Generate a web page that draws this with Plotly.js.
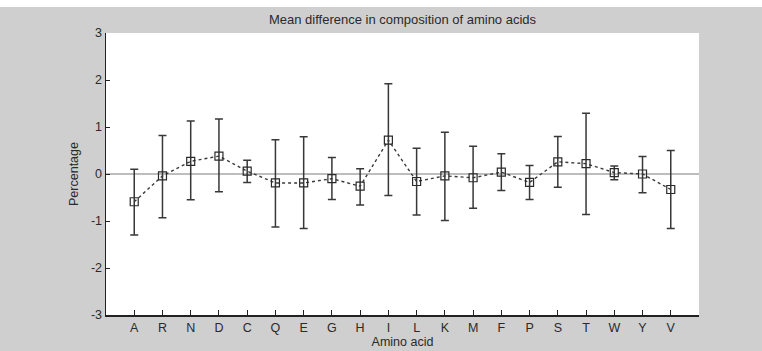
<!DOCTYPE html>
<html>
<head>
<meta charset="utf-8">
<script src="https://cdn.plot.ly/plotly-3.0.1.min.js"></script>
<style>
html, body { margin: 0; padding: 0; background: #ffffff; overflow: hidden; }
#chart { position: absolute; left: 0; top: 7px; width: 762px; height: 344px; }
</style>
</head>
<body>
<div id="chart"></div>
<script>
const aminoAcids = ["A","R","N","D","C","Q","E","G","H","I","L","K","M","F","P","S","T","W","Y","V"];
const meanDiff  = [-0.59,-0.04,0.27,0.38,0.06,-0.19,-0.19,-0.10,-0.26,0.72,-0.16,-0.04,-0.08,0.04,-0.18,0.26,0.22,0.03,0.00,-0.33];
const upperVal  = [0.10,0.82,1.13,1.17,0.29,0.73,0.79,0.35,0.11,1.92,0.55,0.89,0.59,0.43,0.18,0.80,1.29,0.17,0.37,0.50];
const lowerVal  = [-1.30,-0.93,-0.55,-0.38,-0.18,-1.13,-1.16,-0.54,-0.66,-0.46,-0.87,-0.99,-0.73,-0.35,-0.54,-0.28,-0.86,-0.12,-0.40,-1.16];
const yTicks = [-3,-2,-1,0,1,2,3];

const xPos = aminoAcids.map((_, i) => i + 1);
const errPlus = upperVal.map((u, i) => u - meanDiff[i]);
const errMinus = lowerVal.map((l, i) => meanDiff[i] - l);

const FONT = '"Liberation Sans", Arial, sans-serif';

const trace = {
  x: xPos,
  y: meanDiff,
  type: 'scatter',
  mode: 'lines+markers',
  line: { color: '#3a3a3a', width: 1.4, dash: 'dot' },
  marker: { symbol: 'square-open', size: 8, color: '#2a2a2a', line: { width: 1.2, color: '#2a2a2a' } },
  error_y: { type: 'data', symmetric: false, array: errPlus, arrayminus: errMinus, color: '#383838', thickness: 1.5, width: 4 },
  hoverinfo: 'skip'
};

const layout = {
  width: 762, height: 344,
  paper_bgcolor: '#cfcfcf',
  plot_bgcolor: '#ffffff',
  margin: { l: 106, r: 63, t: 26, b: 36, pad: 0 },
  showlegend: false,
  font: { family: FONT, size: 12, color: '#2a2a2a' },
  title: { text: 'Mean difference in composition of amino acids', font: { family: FONT, size: 13, color: '#2a2a2a' }, x: 0.5, xref: 'paper', xanchor: 'center', y: 0.965, yref: 'container', yanchor: 'middle' },
  xaxis: {
    range: [0, 21],
    tickmode: 'array',
    tickvals: xPos,
    ticktext: aminoAcids,
    ticks: 'inside', ticklen: 5, tickcolor: '#222', tickwidth: 1,
    showline: true, linecolor: '#222', linewidth: 2,
    showgrid: false, zeroline: false,
    tickfont: { family: FONT, size: 12.5, color: '#2a2a2a' },
    title: { text: 'Amino acid', font: { family: FONT, size: 12.5, color: '#2a2a2a' }, standoff: 2 },
    fixedrange: true
  },
  yaxis: {
    range: [-3, 3],
    tickmode: 'array',
    tickvals: yTicks,
    ticktext: yTicks.map(String),
    ticks: 'inside', ticklen: 4, tickcolor: '#222', tickwidth: 1,
    showline: true, linecolor: '#222', linewidth: 1.5,
    showgrid: false,
    zeroline: true, zerolinecolor: '#bdbdbd', zerolinewidth: 2.5,
    tickfont: { family: FONT, size: 12.5, color: '#2a2a2a' },
    title: { text: 'Percentage', font: { family: FONT, size: 12.5, color: '#2a2a2a' }, standoff: 9 },
    fixedrange: true
  }
};

Plotly.newPlot('chart', [trace], layout, { displayModeBar: false, staticPlot: true });
</script>
</body>
</html>
